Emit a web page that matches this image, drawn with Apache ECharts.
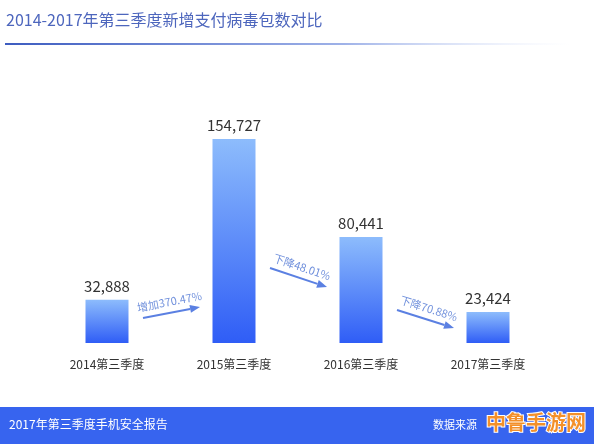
<!DOCTYPE html>
<html>
<head>
<meta charset="utf-8">
<script src="https://cdn.jsdelivr.net/npm/echarts@6/dist/echarts.min.js"></script>
<style>html,body{margin:0;padding:0;background:#fff;}#c{width:594px;height:444px;}</style>
</head>
<body>
<div id="c"></div>
<script>
const titleText = '2014-2017年第三季度新增支付病毒包数对比';
const categories = ['2014第三季度', '2015第三季度', '2016第三季度', '2017第三季度'];
const values = [32888, 154727, 80441, 23424];
const changeLabels = ['增加370.47%', '下降48.01%', '下降70.88%'];
const footerLeft = '2017年第三季度手机安全报告';
const footerRight = '数据来源';
const footerLogo = '中鲁手游网';

const FONT = '"Noto Sans CJK SC", "Noto Sans", sans-serif';
const chart = echarts.init(document.getElementById('c'));
const option = {
  backgroundColor: '#ffffff',
  animation: false,
  textStyle: { fontFamily: FONT },
  grid: { left: 43.5, right: 42.5, top: 79.3, bottom: 101 },
  xAxis: {
    type: 'category', data: categories,
    axisLine: { show: false }, axisTick: { show: false },
    axisLabel: { color: '#333', fontSize: 12, margin: 15, fontFamily: FONT }
  },
  yAxis: { type: 'value', min: 0, max: 200000, show: false, splitLine: { show: false } },
  series: [{
    type: 'bar', data: values, barWidth: 43,
    itemStyle: {
      color: new echarts.graphic.LinearGradient(0, 0, 0, 1, [
        { offset: 0, color: '#8dbcfc' },
        { offset: 1, color: '#2f5df6' }
      ])
    },
    label: {
      show: true, position: 'top', distance: 6, color: '#333', fontSize: 15, fontFamily: FONT,
      formatter: p => p.value.toLocaleString('en-US')
    }
  }],
  graphic: []
};
chart.setOption(option);

// decorative graphics
const g = [];
g.push({ type: 'text', x: 6, y: 12, style: { text: titleText, fill: '#4d66bd', font: 'normal 16px ' + FONT } });
g.push({ type: 'rect', shape: { x: 5, y: 43, width: 565, height: 2 },
  style: { fill: new echarts.graphic.LinearGradient(0, 0, 1, 0, [
    { offset: 0, color: '#3d5cc0' }, { offset: 0.6, color: '#9fb2e8' }, { offset: 1, color: 'rgba(220,228,250,0)' }]) } });
g.push({ type: 'rect', shape: { x: 0, y: 407, width: 594, height: 37 }, style: { fill: '#3764ef' } });
g.push({ type: 'text', x: 9, y: 418, style: { text: footerLeft, fill: '#fff', font: '12px ' + FONT } });
g.push({ type: 'text', x: 433, y: 419, style: { text: footerRight, fill: '#fff', font: '11px ' + FONT } });
g.push({ type: 'text', x: 486, y: 412, style: { text: footerLogo, fill: '#f3902a', stroke: '#ffffff', lineWidth: 2, font: 'bold 20px ' + FONT } });

// arrows between bars
const arrowY = [[318, 307], [268, 287], [310, 328]];
for (let i = 0; i < 3; i++) {
  const p0 = chart.convertToPixel({ xAxisIndex: 0 }, categories[i]);
  const p1 = chart.convertToPixel({ xAxisIndex: 0 }, categories[i + 1]);
  const x0 = p0 + 36, x1 = p1 - 34;
  const y0 = arrowY[i][0], y1 = arrowY[i][1];
  const ang = Math.atan2(y1 - y0, x1 - x0);
  const hl = 10, hw = 4;
  const bx = x1 - hl * Math.cos(ang), by = y1 - hl * Math.sin(ang);
  const nx = -Math.sin(ang), ny = Math.cos(ang);
  g.push({ type: 'line', shape: { x1: x0, y1: y0, x2: bx, y2: by }, style: { stroke: '#5b80e2', lineWidth: 2 } });
  g.push({ type: 'polygon', shape: { points: [[x1, y1], [bx + nx * hw, by + ny * hw], [bx - nx * hw, by - ny * hw]] }, style: { fill: '#5b80e2' } });
  const mx = (x0 + x1) / 2 + nx * -11, my = (y0 + y1) / 2 + ny * -11;
  g.push({ type: 'text', x: mx, y: my, rotation: -ang, originX: 0, originY: 0,
    style: { text: changeLabels[i], fill: '#7090dc', font: '11px ' + FONT, align: 'center', verticalAlign: 'middle' } });
}
chart.setOption({ graphic: g });
</script>
</body>
</html>
